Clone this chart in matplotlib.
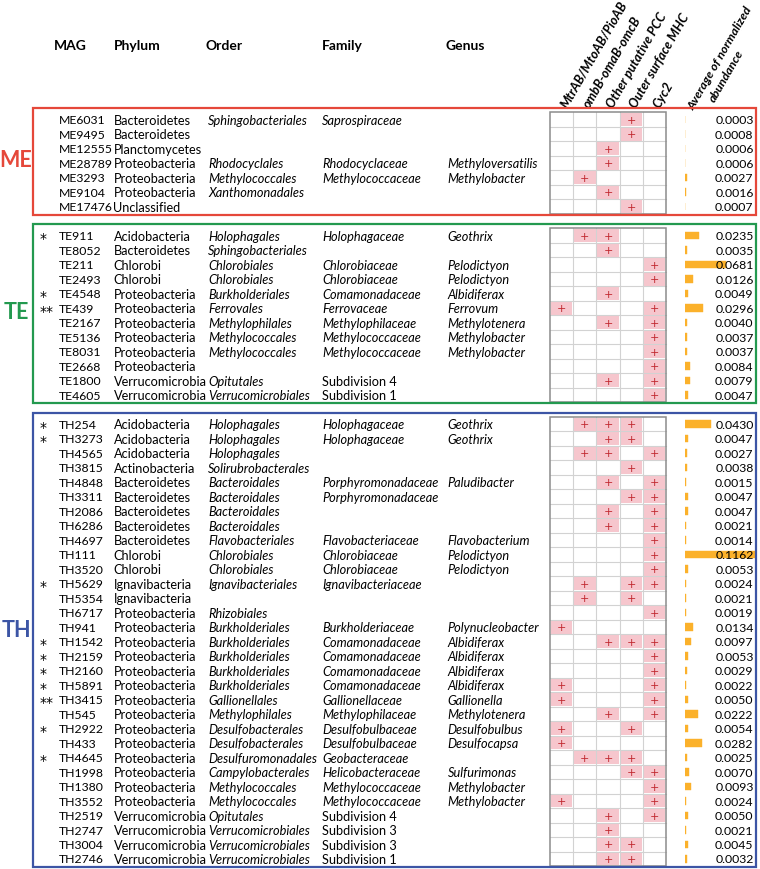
import matplotlib
matplotlib.use("Agg")
import matplotlib.pyplot as plt
from matplotlib.patches import Rectangle

plt.rcParams['font.family'] = ['Lato', 'DejaVu Sans']

# ---------------- data ----------------
section_names = ["ME", "TE", "TH"]
section_sizes = [7, 12, 31]
section_colors = ["#E5483A", "#23994F", "#3C55A5"]

gene_labels = ["MtrAB/MtoAB/PioAB", "ombB-omaB-omcB", "Other putative PCC",
               "Outer surface MHC", "Cyc2"]
col_headers = ["MAG", "Phylum", "Order", "Family", "Genus"]
abund_header = ["Average of normalized", "abundance"]

stars = ["", "", "", "", "", "", "",
         "*", "", "", "", "*", "**", "", "", "", "", "", "",
         "*", "*", "", "", "", "", "", "", "", "", "", "*", "", "", "", "*", "*", "*", "*", "**",
         "", "*", "", "*", "", "", "", "", "", "", ""]

mags = ["ME6031", "ME9495", "ME12555", "ME28789", "ME3293", "ME9104", "ME17476",
        "TE911", "TE8052", "TE211", "TE2493", "TE4548", "TE439", "TE2167", "TE5136",
        "TE8031", "TE2668", "TE1800", "TE4605",
        "TH254", "TH3273", "TH4565", "TH3815", "TH4848", "TH3311", "TH2086", "TH6286",
        "TH4697", "TH111", "TH3520", "TH5629", "TH5354", "TH6717", "TH941", "TH1542",
        "TH2159", "TH2160", "TH5891", "TH3415", "TH545", "TH2922", "TH433", "TH4645",
        "TH1998", "TH1380", "TH3552", "TH2519", "TH2747", "TH3004", "TH2746"]

phyla = ["Bacteroidetes", "Bacteroidetes", "Planctomycetes", "Proteobacteria",
         "Proteobacteria", "Proteobacteria", "Unclassified",
         "Acidobacteria", "Bacteroidetes", "Chlorobi", "Chlorobi", "Proteobacteria",
         "Proteobacteria", "Proteobacteria", "Proteobacteria", "Proteobacteria",
         "Proteobacteria", "Verrucomicrobia", "Verrucomicrobia",
         "Acidobacteria", "Acidobacteria", "Acidobacteria", "Actinobacteria",
         "Bacteroidetes", "Bacteroidetes", "Bacteroidetes", "Bacteroidetes",
         "Bacteroidetes", "Chlorobi", "Chlorobi", "Ignavibacteria", "Ignavibacteria",
         "Proteobacteria", "Proteobacteria", "Proteobacteria", "Proteobacteria",
         "Proteobacteria", "Proteobacteria", "Proteobacteria", "Proteobacteria",
         "Proteobacteria", "Proteobacteria", "Proteobacteria", "Proteobacteria",
         "Proteobacteria", "Proteobacteria", "Verrucomicrobia", "Verrucomicrobia",
         "Verrucomicrobia", "Verrucomicrobia"]

orders = ["Sphingobacteriales", "", "", "Rhodocyclales", "Methylococcales",
          "Xanthomonadales", "",
          "Holophagales", "Sphingobacteriales", "Chlorobiales", "Chlorobiales",
          "Burkholderiales", "Ferrovales", "Methylophilales", "Methylococcales",
          "Methylococcales", "", "Opitutales", "Verrucomicrobiales",
          "Holophagales", "Holophagales", "Holophagales", "Solirubrobacterales",
          "Bacteroidales", "Bacteroidales", "Bacteroidales", "Bacteroidales",
          "Flavobacteriales", "Chlorobiales", "Chlorobiales", "Ignavibacteriales", "",
          "Rhizobiales", "Burkholderiales", "Burkholderiales", "Burkholderiales",
          "Burkholderiales", "Burkholderiales", "Gallionellales", "Methylophilales",
          "Desulfobacterales", "Desulfobacterales", "Desulfuromonadales",
          "Campylobacterales", "Methylococcales", "Methylococcales", "Opitutales",
          "Verrucomicrobiales", "Verrucomicrobiales", "Verrucomicrobiales"]

families = ["Saprospiraceae", "", "", "Rhodocyclaceae", "Methylococcaceae", "", "",
            "Holophagaceae", "", "Chlorobiaceae", "Chlorobiaceae", "Comamonadaceae",
            "Ferrovaceae", "Methylophilaceae", "Methylococcaceae", "Methylococcaceae",
            "", "Subdivision 4", "Subdivision 1",
            "Holophagaceae", "Holophagaceae", "", "", "Porphyromonadaceae",
            "Porphyromonadaceae", "", "", "Flavobacteriaceae", "Chlorobiaceae",
            "Chlorobiaceae", "Ignavibacteriaceae", "", "", "Burkholderiaceae",
            "Comamonadaceae", "Comamonadaceae", "Comamonadaceae", "Comamonadaceae",
            "Gallionellaceae", "Methylophilaceae", "Desulfobulbaceae",
            "Desulfobulbaceae", "Geobacteraceae", "Helicobacteraceae",
            "Methylococcaceae", "Methylococcaceae", "Subdivision 4", "Subdivision 3",
            "Subdivision 3", "Subdivision 1"]

genera = ["", "", "", "Methyloversatilis", "Methylobacter", "", "",
          "Geothrix", "", "Pelodictyon", "Pelodictyon", "Albidiferax", "Ferrovum",
          "Methylotenera", "Methylobacter", "Methylobacter", "", "", "",
          "Geothrix", "Geothrix", "", "", "Paludibacter", "", "", "",
          "Flavobacterium", "Pelodictyon", "Pelodictyon", "", "", "",
          "Polynucleobacter", "Albidiferax", "Albidiferax", "Albidiferax",
          "Albidiferax", "Gallionella", "Methylotenera", "Desulfobulbus",
          "Desulfocapsa", "", "Sulfurimonas", "Methylobacter", "Methylobacter",
          "", "", "", ""]

genes = ["00010", "00010", "00100", "00100", "01000", "00100", "00010",
         "01100", "00100", "00001", "00001", "00100", "10001", "00101", "00001",
         "00001", "00001", "00101", "00001",
         "01110", "00110", "01101", "00010", "00101", "00011", "00101", "00101",
         "00001", "00001", "00001", "01011", "01010", "00001", "10000", "00111",
         "00001", "00001", "10001", "10001", "00101", "10010", "10000", "01110",
         "00011", "00001", "10001", "00101", "00100", "00110", "00110"]

abundance = [0.0003, 0.0008, 0.0006, 0.0006, 0.0027, 0.0016, 0.0007,
             0.0235, 0.0035, 0.0681, 0.0126, 0.0049, 0.0296, 0.0040, 0.0037,
             0.0037, 0.0084, 0.0079, 0.0047,
             0.0430, 0.0047, 0.0027, 0.0038, 0.0015, 0.0047, 0.0047, 0.0021,
             0.0014, 0.1162, 0.0053, 0.0024, 0.0021, 0.0019, 0.0134, 0.0097,
             0.0053, 0.0029, 0.0022, 0.0050, 0.0222, 0.0054, 0.0282, 0.0025,
             0.0070, 0.0093, 0.0024, 0.0050, 0.0021, 0.0045, 0.0032]

# ---------------- layout ----------------
W, H = 760, 870
fig = plt.figure(figsize=(W / 100, H / 100), dpi=100)

bax = fig.add_axes([685 / W, 0, 75 / W, 1])
bax.set_zorder(0)

ax = fig.add_axes([0, 0, 1, 1])
ax.set_zorder(1)
ax.set_xlim(0, W)
ax.set_ylim(H, 0)
ax.axis('off')

y_first = 120.7
row_h = 14.496
fs = 9.2
fs_num = 8.8
x_star, x_mag, x_phy, x_ord, x_fam, x_gen = 40, 59, 113.5, 208, 322, 447.5
grid_x0, cell_w = 550, 23.2
x_val = 753.5
box_x0, box_x1 = 33, 756
hfs = 9.3

pink = "#F6C6CD"
plus_c = "#C0262D"

row_y = []
slot = 0
sec_ranges = []
for n in section_sizes:
    start = len(row_y)
    for _ in range(n):
        row_y.append(y_first + slot * row_h)
        slot += 1
    sec_ranges.append((start, len(row_y) - 1))
    slot += 1

# headers
hx = [54, 113.5, 205, 322, 446]
for x, lab in zip(hx, col_headers):
    ax.text(x, 46, lab, fontsize=10, fontweight='bold', ha='left', va='center')

for j, lab in enumerate(gene_labels):
    cx = grid_x0 + cell_w * (j + 0.5)
    ax.text(cx + 5, 109, lab, fontsize=hfs, fontweight='bold', style='italic',
            rotation=60, rotation_mode='anchor', ha='left', va='baseline')
ax.text(694, 111, abund_header[0], fontsize=8.9, fontweight='bold', style='italic',
        rotation=60, rotation_mode='anchor', ha='left', va='baseline')
ax.text(715, 103, abund_header[1], fontsize=8.9, fontweight='bold', style='italic',
        rotation=60, rotation_mode='anchor', ha='left', va='baseline')

# sections: boxes, labels, grid
for (s, e), name, col in zip(sec_ranges, section_names, section_colors):
    top = row_y[s] - 11.5
    bot = row_y[e] + 8
    ax.add_patch(Rectangle((box_x0, top), box_x1 - box_x0, bot - top,
                           fill=False, ec=col, lw=1.6, zorder=3))
    ly = (top + bot) / 2 - (10 if name == "TH" else 2)
    ax.text(16, ly, name, color=col, fontsize=15.5, fontweight='bold',
            ha='center', va='center')
    gt = row_y[s] - row_h / 2
    gb = row_y[e] + row_h / 2
    for i in range(s, e + 1):
        for j, g in enumerate(genes[i]):
            x0 = grid_x0 + j * cell_w
            y0 = row_y[i] - row_h / 2
            if g == "1":
                ax.add_patch(Rectangle((x0 + 0.8, y0 + 0.8), cell_w - 1.6, row_h - 1.6,
                                       fc=pink, ec='none', zorder=1))
                ax.text(x0 + cell_w / 2, row_y[i], "+", color=plus_c, fontsize=8,
                        ha='center', va='center', zorder=2, family='DejaVu Sans')
    for j in range(1, 5):
        x = grid_x0 + j * cell_w
        ax.plot([x, x], [gt, gb], color="#D2D2D2", lw=0.8, zorder=1.5)
    for i in range(s + 1, e + 1):
        y = row_y[i] - row_h / 2
        ax.plot([grid_x0, grid_x0 + 5 * cell_w], [y, y], color="#D2D2D2", lw=0.8,
                zorder=1.5)
    ax.add_patch(Rectangle((grid_x0, gt), 5 * cell_w, gb - gt, fill=False,
                           ec="#8C8C8C", lw=1.1, zorder=2))

# row texts
for i, y in enumerate(row_y):
    if stars[i]:
        ax.text(x_star, y + 2.5, stars[i], fontsize=10, ha='left', va='center',
                family='DejaVu Sans')
    ax.text(x_mag, y, mags[i], fontsize=fs_num, ha='left', va='center')
    ax.text(x_phy, y, phyla[i], fontsize=fs, ha='left', va='center')
    ax.text(x_ord, y, orders[i], fontsize=fs, ha='left', va='center', style='italic')
    fam_style = 'normal' if families[i].startswith("Subdivision") else 'italic'
    ax.text(x_fam, y, families[i], fontsize=fs, ha='left', va='center', style=fam_style)
    ax.text(x_gen, y, genera[i], fontsize=fs, ha='left', va='center', style='italic')
    ax.text(x_val, y, f"{abundance[i]:.4f}", fontsize=fs_num, ha='right', va='center')

bax.set_ylim(H, 0)
bax.set_xlim(0, 75 / 602)
bax.axis('off')
bax.barh(row_y, abundance, height=7.5, color="#FBB12B", ec="#FBB12B", lw=0.3)

fig.savefig("out.png", dpi=100)
